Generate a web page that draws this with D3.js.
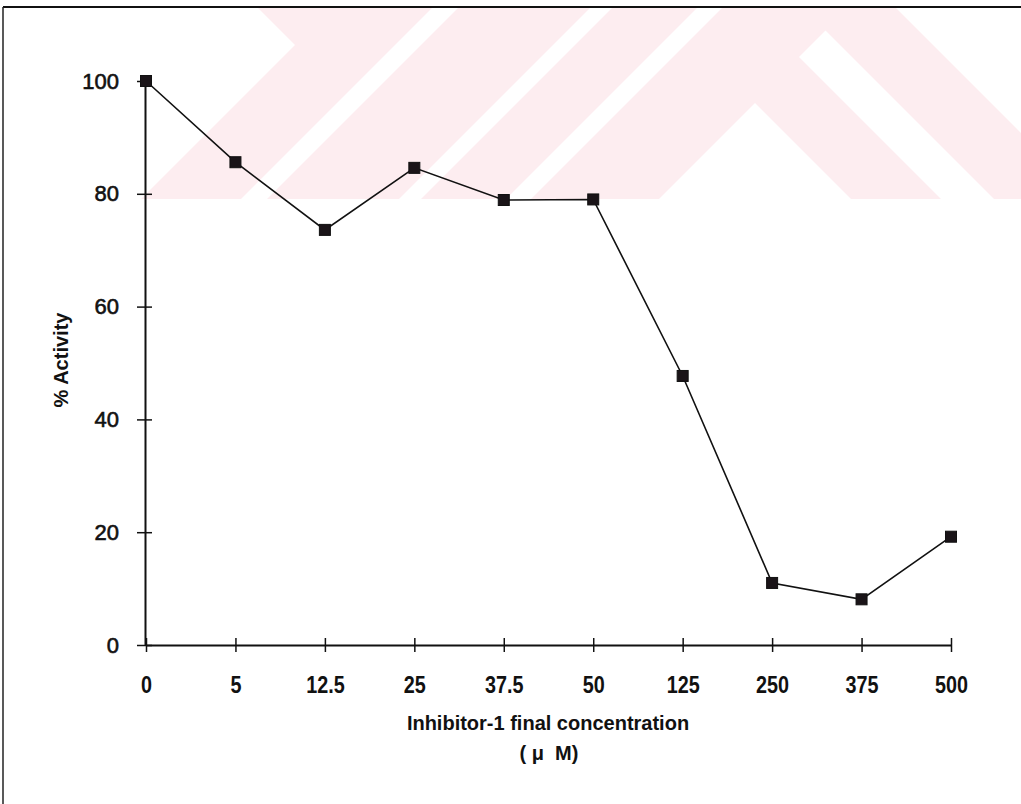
<!DOCTYPE html>
<html>
<head>
<meta charset="utf-8">
<script src="https://cdn.jsdelivr.net/npm/d3@7"></script>
<style>
  html, body { margin: 0; padding: 0; background: #fff; }
  svg { display: block; }
  .tick-label { font-family: "Liberation Sans", Arial, sans-serif; font-weight: bold; fill: #111; }
  .ytick-label { font-family: "Liberation Sans", Arial, sans-serif; font-weight: normal; fill: #111; stroke: #111; stroke-width: 0.6px; }
  .title { font-family: "Liberation Sans", Arial, sans-serif; font-weight: bold; fill: #111; }
</style>
</head>
<body>
<script>
// Inhibitor-1 dose response: % activity remaining at each final concentration
const concentrations = ["0", "5", "12.5", "25", "37.5", "50", "125", "250", "375", "500"];
const activity = [100, 85.6, 73.6, 84.6, 78.9, 79.0, 47.7, 11.0, 8.1, 19.2];
const yTicks = [0, 20, 40, 60, 80, 100];

const W = 1021, H = 804;
const svg = d3.select("body").append("svg").attr("width", W).attr("height", H);

// Faint pink logo band behind the plot
const logo = svg.append("g");
svg.append("clipPath").attr("id", "logoClip")
  .append("rect").attr("x", 0).attr("y", 7).attr("width", W).attr("height", 192);
logo.attr("clip-path", "url(#logoClip)");
const pink = "#fdedf0";
const poly = pts => pts.map(p => p.join(",")).join(" ");
logo.append("polygon").attr("fill", pink)
  .attr("points", poly([[250, 0], [295, 45], [130, 210], [1098, 210], [888, 0]]));
// diagonal white gaps (constant x + y)
[[440, 466], [598, 620], [705, 730]].forEach(([a, b]) => {
  logo.append("polygon").attr("fill", "#fff")
    .attr("points", poly([[a, 0], [b, 0], [b - 210, 210], [a - 210, 210]]));
});
// inner chevron cut-outs
logo.append("polygon").attr("fill", "#fff")
  .attr("points", poly([[755, 103], [862, 210], [648, 210]]));
logo.append("polygon").attr("fill", "#fff")
  .attr("points", poly([[799, 57], [825.5, 30.5], [1005, 210], [952, 210]]));

// Frame
svg.append("line").attr("x1", 3).attr("x2", W).attr("y1", 7).attr("y2", 7)
  .attr("stroke", "#111").attr("stroke-width", 2);
svg.append("line").attr("x1", 3).attr("x2", 3).attr("y1", 7).attr("y2", H)
  .attr("stroke", "#222").attr("stroke-width", 1.5);

// Scales
const x = d3.scalePoint().domain(concentrations).range([146, 951]);
const y = d3.scaleLinear().domain([0, 100]).range([645, 81]);
const x0 = 145;

// Y axis
const gy = svg.append("g").attr("transform", `translate(${x0},0)`)
  .call(d3.axisLeft(y).tickValues(yTicks).tickSizeInner(8).tickSizeOuter(0).tickPadding(18));
gy.select(".domain").attr("stroke", "#111").attr("stroke-width", 2);
gy.selectAll(".tick line").attr("x1", 7).attr("stroke", "#111").attr("stroke-width", 1.5);
gy.selectAll(".tick text").attr("class", "ytick-label").attr("font-family", null)
  .style("font-size", "22px");

// X axis
const gx = svg.append("g").attr("transform", `translate(0,${y(0)})`)
  .call(d3.axisBottom(x).tickSizeInner(7).tickSizeOuter(0));
gx.select(".domain").attr("stroke", "#111").attr("stroke-width", 2);
gx.selectAll(".tick line").attr("y1", -7).attr("stroke", "#111").attr("stroke-width", 1.5);
gx.selectAll(".tick text").attr("class", "tick-label").attr("font-family", null)
  .attr("y", 0).attr("dy", null)
  .attr("transform", "translate(0,48) scale(0.86,1)")
  .style("font-size", "23px");

// Series line and square markers
const pts = concentrations.map((c, i) => ({ c, v: activity[i] }));
svg.append("path").datum(pts)
  .attr("fill", "none").attr("stroke", "#111").attr("stroke-width", 1.6)
  .attr("d", d3.line().x(d => x(d.c)).y(d => y(d.v)));
const s = 11;
svg.append("g").selectAll("rect").data(pts).join("rect")
  .attr("x", d => x(d.c) - s / 2).attr("y", d => y(d.v) - s / 2)
  .attr("width", s).attr("height", s)
  .attr("fill", "#1a1418").attr("stroke", "#111").attr("stroke-width", 1);

// Axis titles
svg.append("text").attr("class", "title").attr("x", 548).attr("y", 730)
  .attr("text-anchor", "middle").style("font-size", "20px")
  .text("Inhibitor-1 final concentration");
svg.append("text").attr("class", "title").attr("x", 549).attr("y", 760)
  .attr("text-anchor", "middle").style("font-size", "20px").style("white-space", "pre")
  .text("( μ  M)");
svg.append("text").attr("class", "title")
  .attr("transform", "translate(68,360) rotate(-90)")
  .attr("text-anchor", "middle").style("font-size", "20px")
  .text("% Activity");
</script>
</body>
</html>
